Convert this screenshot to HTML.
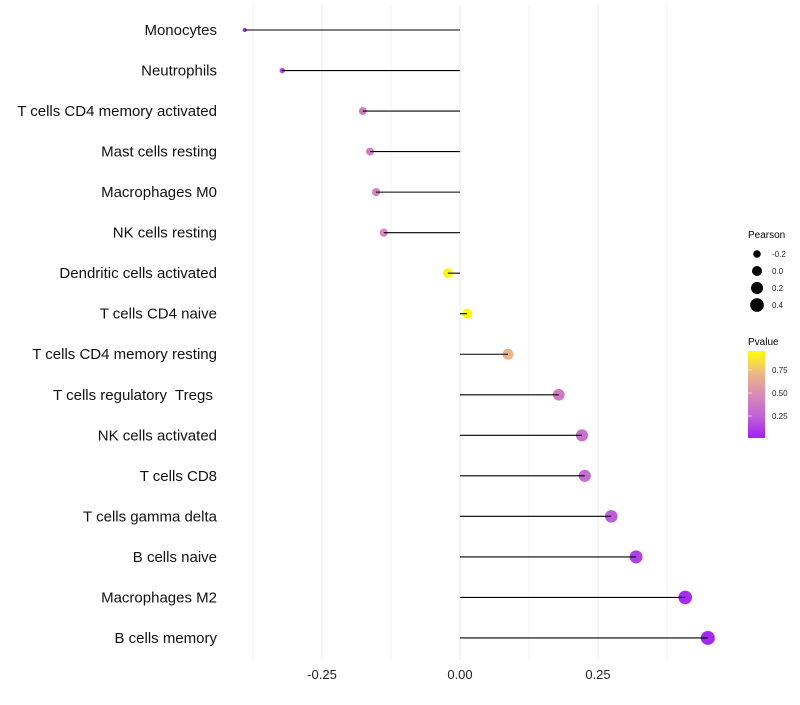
<!DOCTYPE html>
<html><head><meta charset="utf-8"><style>
body{margin:0;background:#fff;}
svg text{font-family:"Liberation Sans",sans-serif;white-space:pre;}
</style></head><body>
<svg id="chart" width="800" height="700" xmlns="http://www.w3.org/2000/svg">
<defs><linearGradient id="pg" x1="0" y1="1" x2="0" y2="0">
<stop offset="0" stop-color="#a020f0"/><stop offset="0.25" stop-color="#c063d8"/><stop offset="0.5" stop-color="#d98bb5"/><stop offset="0.75" stop-color="#eeb884"/><stop offset="1" stop-color="#ffff00"/></linearGradient></defs>
<g id="grid"></g>
<g id="marks"></g>
<g id="labels"></g>
<g id="xticks"></g>
<g>
<text x="748" y="238" font-size="10">Pearson</text>
<g id="sizeleg"></g>
</g>
<g>
<text x="748" y="345" font-size="10">Pvalue</text>
<rect x="748" y="351" width="17" height="87" fill="url(#pg)"/>
<g id="colleg"></g>
</g>
</svg>
<script>
const categories=["Monocytes","Neutrophils","T cells CD4 memory activated","Mast cells resting","Macrophages M0","NK cells resting","Dendritic cells activated","T cells CD4 naive","T cells CD4 memory resting","T cells regulatory  Tregs ","NK cells activated","T cells CD8","T cells gamma delta","B cells naive","Macrophages M2","B cells memory"];
const pearson=[-0.39,-0.322,-0.176,-0.163,-0.152,-0.138,-0.022,0.013,0.087,0.179,0.221,0.226,0.274,0.319,0.408,0.449];
const pvalue=[0.05,0.15,0.4,0.42,0.45,0.5,0.97,0.98,0.72,0.4,0.33,0.3,0.22,0.12,0.05,0.03];
const xTicks=[-0.25,0,0.25];
const xTickLabels=["-0.25","0.00","0.25"];
const sizeLegend=[-0.2,0,0.2,0.4];
const colorLegend=[0.25,0.5,0.75];
const NS="http://www.w3.org/2000/svg";
const X=v=>460+v*552;
const Y=i=>30+i*40.53;
const R=v=>Math.sqrt(Math.max(1,24.9+53.6*v));
const stops=[[0,[160,32,240]],[0.25,[192,99,216]],[0.5,[217,139,181]],[0.75,[238,184,132]],[1,[255,255,0]]];
function col(p){for(let k=1;k<stops.length;k++){if(p<=stops[k][0]){const a=stops[k-1],b=stops[k];const t=(p-a[0])/(b[0]-a[0]);return "rgb("+a[1].map((c,j)=>Math.round(c+(b[1][j]-c)*t)).join(",")+")";}}return "rgb(255,255,0)";}
function mk(tag,at,parent){const e=document.createElementNS(NS,tag);for(const k in at)e.setAttribute(k,at[k]);document.getElementById(parent).appendChild(e);return e;}
for(let v=-0.375;v<=0.376;v+=0.125){const l=mk("line",{x1:X(v),x2:X(v),y1:5,y2:660,stroke:"#ebebeb","stroke-width":Math.abs((v/0.25)%1)<1e-9?1:0.6},"grid");

}
xTicks.forEach((v,i)=>{const t=mk("text",{x:X(v),y:679,"font-size":13,"text-anchor":"middle",fill:"#222"},"xticks");t.textContent=xTickLabels[i];

});
categories.forEach((c,i)=>{
const t=mk("text",{x:217,y:Y(i)+5,"font-size":15,"text-anchor":"end",fill:"#111"},"labels");t.textContent=c;


const p=mk("circle",{cx:X(pearson[i]),cy:Y(i),r:R(pearson[i]),fill:col(pvalue[i])},"marks");


const l=mk("line",{x1:X(0),x2:X(pearson[i]),y1:Y(i),y2:Y(i),stroke:"#000","stroke-width":1.1},"marks");


});
sizeLegend.forEach((v,i)=>{const y=254+i*17;
const c=mk("circle",{cx:757,cy:y,r:R(v),fill:"#000"},"sizeleg");


const t=mk("text",{x:772,y:y+3,"font-size":8,fill:"#222"},"sizeleg");t.textContent=v.toFixed(1);

});
colorLegend.forEach(v=>{const y=439-v*92;
const t=mk("text",{x:772,y:y+3,"font-size":8,fill:"#222"},"colleg");t.textContent=v.toFixed(2);


const tk=mk("line",{x1:748,x2:752,y1:y,y2:y,stroke:"#fff","stroke-width":0.6},"colleg");

});
</script>
</body></html>
